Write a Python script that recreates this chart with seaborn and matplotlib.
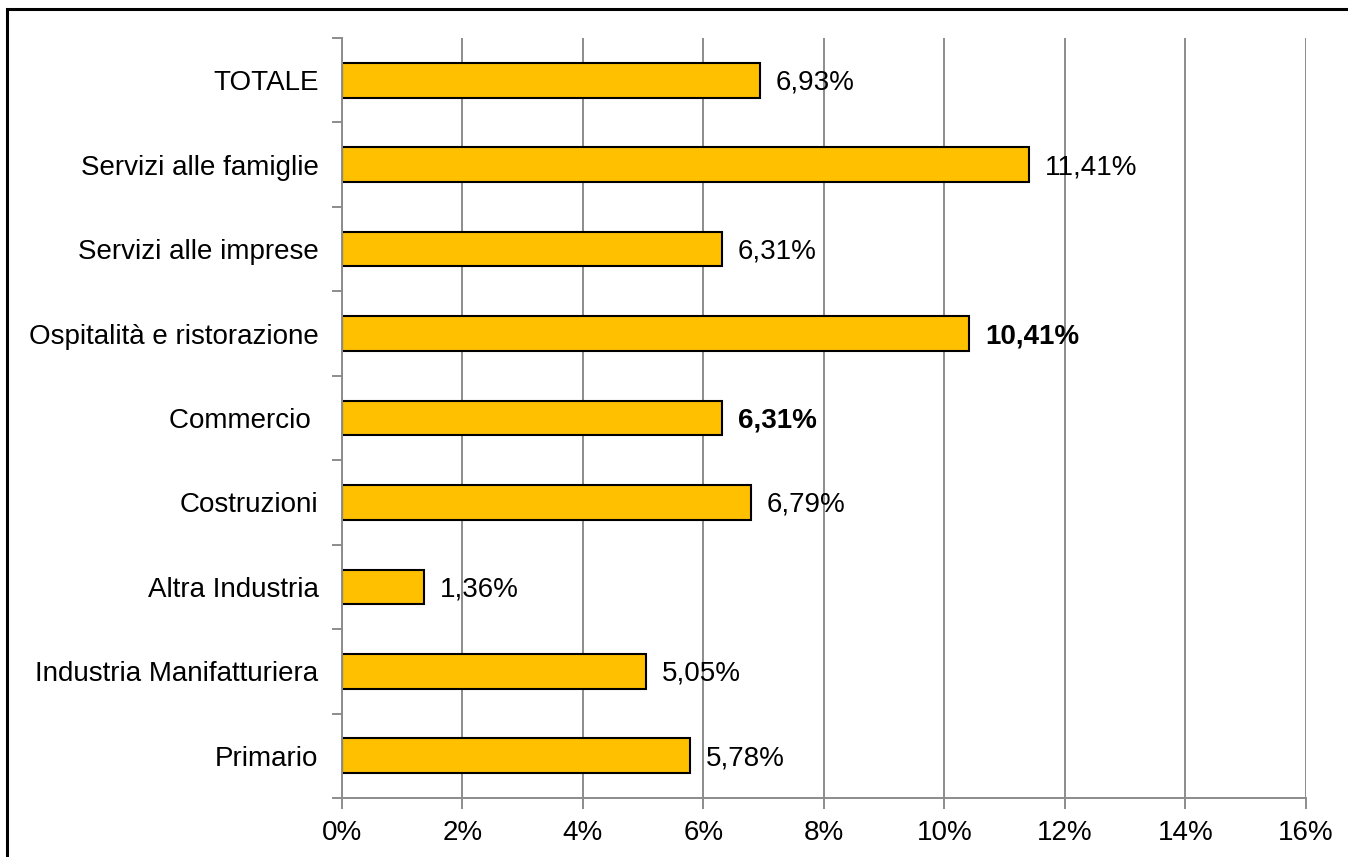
import pandas as pd
import matplotlib.pyplot as plt
import seaborn as sns
from matplotlib.patches import Rectangle
from matplotlib.ticker import FuncFormatter, MultipleLocator

# Data (top to bottom as in the chart)
categories = ["TOTALE", "Servizi alle famiglie", "Servizi alle imprese",
              "Ospitalità e ristorazione", "Commercio ", "Costruzioni",
              "Altra Industria", "Industria Manifatturiera", "Primario"]
values = [6.93, 11.41, 6.31, 10.41, 6.31, 6.79, 1.36, 5.05, 5.78]
bold_labels = ["Ospitalità e ristorazione", "Commercio "]

df = pd.DataFrame({"settore": categories, "valore": values})

sns.set_style("white")
plt.rcParams["font.family"] = ["Liberation Sans", "DejaVu Sans"]
plt.rcParams["text.color"] = "black"
plt.rcParams["xtick.color"] = "#8c8c8c"
plt.rcParams["ytick.color"] = "#8c8c8c"
plt.rcParams["xtick.labelcolor"] = "black"
plt.rcParams["ytick.labelcolor"] = "black"

fig = plt.figure(figsize=(13.48, 8.57), dpi=100)
ax = fig.add_axes([0.2537, 0.0688, 0.7151, 0.8869])

sns.barplot(data=df, y="settore", x="valore", orient="h", color="#FFC000",
            edgecolor="black", linewidth=1.5, width=0.41, saturation=1, ax=ax)

# value labels with comma decimals
for i, (cat, v) in enumerate(zip(categories, values)):
    txt = f"{v:.2f}%".replace(".", ",")
    ax.text(v + 0.26, i + 0.03, txt, va="center", ha="left", fontsize=20,
            color="black",
            fontweight="bold" if cat in bold_labels else "normal")

ax.set_xlim(0, 16)
ax.set_ylim(len(categories) - 0.5, -0.5)
ax.xaxis.set_major_locator(MultipleLocator(2))
ax.xaxis.set_major_formatter(FuncFormatter(lambda x, p: f"{x:.0f}%"))
ax.set_xlabel("")
ax.set_ylabel("")

# vertical gridlines behind bars
ax.set_axisbelow(True)
ax.grid(axis="x", color="#8c8c8c", linewidth=1.4)
ax.grid(axis="y", visible=False)

# y ticks at category boundaries, labels at centres
ax.set_yticks([i - 0.5 for i in range(len(categories) + 1)], minor=False)
ax.set_yticklabels([])
ax.set_yticks(range(len(categories)), minor=True)
ax.set_yticklabels(categories, minor=True, fontsize=20, color="black")
ax.tick_params(axis="y", which="minor", left=False, length=0, pad=17)
ax.tick_params(axis="y", which="major", left=True, length=7, width=1.4)
ax.tick_params(axis="x", bottom=True, length=8, width=1.4, labelsize=20, pad=8)

for side in ["top", "right"]:
    ax.spines[side].set_visible(False)
for side in ["left", "bottom"]:
    ax.spines[side].set_color("#8c8c8c")
    ax.spines[side].set_linewidth(1.4)

# outer chart border (only top and left edges fall inside the image)
fig.patches.append(Rectangle((7 / 1348, -0.2), 1.2, 1.2 - 9 / 857,
                             transform=fig.transFigure, fill=False,
                             edgecolor="black", linewidth=2.2, zorder=10))

fig.savefig("out.png", dpi=100)
